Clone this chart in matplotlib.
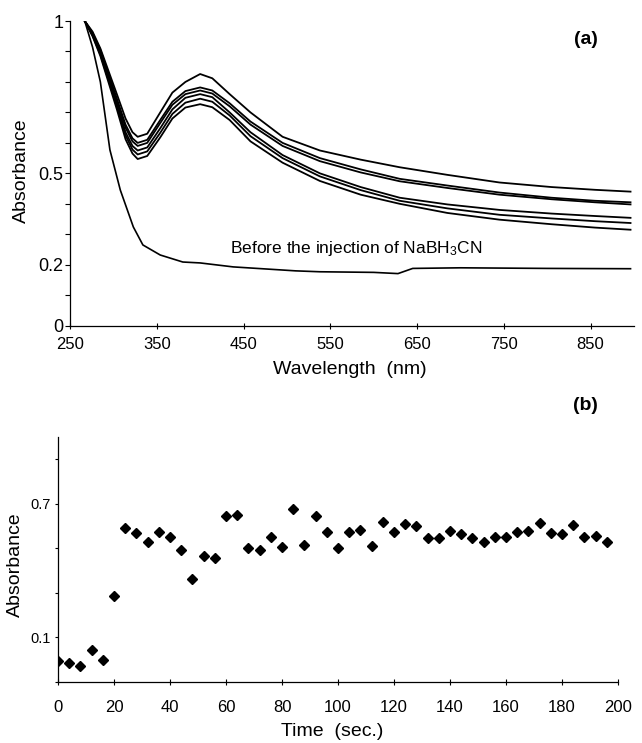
import numpy as np
import matplotlib
matplotlib.use("Agg")
import matplotlib.pyplot as plt

plt.rcParams["font.family"] = ["Liberation Sans", "DejaVu Sans"]
plt.rcParams["mathtext.fontset"] = "custom"
plt.rcParams["mathtext.rm"] = "Liberation Sans"
plt.rcParams["mathtext.default"] = "regular"

# (a) spectra after injection
wl = [267, 276, 285, 304, 314, 322, 328, 339, 354, 368, 383, 400, 414, 434,
      458, 495, 538, 585, 630, 685, 745, 805, 855, 896]
spec1 = [1.00, 0.965, 0.91, 0.76, 0.68, 0.635, 0.62, 0.63, 0.70, 0.765, 0.80, 0.826,
         0.812, 0.76, 0.70, 0.62, 0.575, 0.545, 0.52, 0.495, 0.47, 0.455, 0.446, 0.44]
spec2 = [1.00, 0.96, 0.905, 0.745, 0.66, 0.615, 0.60, 0.61, 0.675, 0.735, 0.77, 0.782,
         0.772, 0.73, 0.67, 0.60, 0.55, 0.513, 0.482, 0.46, 0.437, 0.42, 0.41, 0.405]
spec3 = [1.00, 0.958, 0.90, 0.74, 0.65, 0.605, 0.59, 0.60, 0.665, 0.725, 0.76, 0.772,
         0.762, 0.72, 0.66, 0.59, 0.54, 0.503, 0.474, 0.452, 0.43, 0.415, 0.405, 0.398]
spec4 = [1.00, 0.955, 0.895, 0.73, 0.635, 0.59, 0.575, 0.585, 0.648, 0.71, 0.748, 0.76,
         0.75, 0.70, 0.635, 0.56, 0.50, 0.455, 0.42, 0.398, 0.38, 0.368, 0.36, 0.354]
spec5 = [1.00, 0.952, 0.89, 0.72, 0.625, 0.578, 0.562, 0.572, 0.633, 0.695, 0.732, 0.745,
         0.735, 0.69, 0.622, 0.55, 0.49, 0.445, 0.41, 0.385, 0.364, 0.352, 0.343, 0.337]
spec6 = [1.00, 0.95, 0.885, 0.71, 0.612, 0.565, 0.547, 0.557, 0.618, 0.68, 0.716, 0.727,
         0.717, 0.675, 0.605, 0.535, 0.475, 0.43, 0.40, 0.37, 0.348, 0.333, 0.322, 0.315]
spectra = [spec1, spec2, spec3, spec4, spec5, spec6]

# (a) spectrum before the injection
wl_before = [267, 276, 285, 296, 308, 323, 334, 354, 380, 400, 438, 510, 538, 600,
             628, 645, 700, 800, 896]
abs_before = [1.00, 0.914, 0.80, 0.577, 0.445, 0.324, 0.265, 0.232, 0.209, 0.206,
              0.193, 0.18, 0.177, 0.175, 0.171, 0.188, 0.19, 0.188, 0.187]

a_xticks = [250, 350, 450, 550, 650, 750, 850]
a_yticks = [0, 0.1, 0.2, 0.3, 0.4, 0.5, 0.6, 0.7, 0.8, 0.9, 1.0]
a_ylabels = ["0", "", "0.2", "", "", "0.5", "", "", "", "", "1"]

# (b) absorbance vs time
time_s = [0, 4, 8, 12, 16, 20, 24, 28, 32, 36, 40, 44, 48, 52, 56, 60, 64, 68, 72,
          76, 80, 84, 88, 92, 96, 100, 104, 108, 112, 116, 120, 124, 128, 132, 136,
          140, 144, 148, 152, 156, 160, 164, 168, 172, 176, 180, 184, 188, 192, 196]
absorb = [-0.007, -0.014, -0.029, 0.041, -0.004, 0.286, 0.593, 0.568, 0.530, 0.571,
          0.550, 0.492, 0.360, 0.467, 0.458, 0.646, 0.649, 0.500, 0.491, 0.552,
          0.507, 0.676, 0.516, 0.643, 0.575, 0.503, 0.571, 0.583, 0.512, 0.619,
          0.575, 0.610, 0.602, 0.545, 0.545, 0.578, 0.563, 0.548, 0.529, 0.550,
          0.552, 0.571, 0.577, 0.614, 0.568, 0.565, 0.604, 0.550, 0.556, 0.527]

b_xticks = [0, 20, 40, 60, 80, 100, 120, 140, 160, 180, 200]
b_yticks = [-0.1, 0.1, 0.3, 0.5, 0.7, 0.9]
b_ylabels = ["", "0.1", "", "", "0.7", ""]

W, H = 642, 743
fig = plt.figure(figsize=(W / 100, H / 100), dpi=100)


def px_axes(x0, y0, x1, y1):
    return fig.add_axes([x0 / W, 1 - y1 / H, (x1 - x0) / W, (y1 - y0) / H])


def style(ax):
    for s in ["top", "right"]:
        ax.spines[s].set_visible(False)
    for s in ["left", "bottom"]:
        ax.spines[s].set_linewidth(0.9)


# ---- panel (a)
ax1 = px_axes(70, 21, 634, 325.7)
style(ax1)
for s in spectra:
    ax1.plot(wl, s, color="black", lw=1.3)
ax1.plot(wl_before, abs_before, color="black", lw=1.2)
ax1.set_xlim(250, 900)
ax1.set_ylim(0, 1.0)
ax1.set_xticks(a_xticks)
ax1.set_xticklabels([str(t) for t in a_xticks], fontsize=12)
ax1.set_yticks(a_yticks)
ax1.set_yticklabels(a_ylabels, fontsize=13)
ax1.tick_params(axis="x", direction="inout", length=4, width=0.8, pad=6)
ax1.tick_params(axis="y", direction="out", length=3.6, width=0.8, pad=1)
ax1.text(434, 0.255, "Before the injection of NaBH$_3$CN", fontsize=12.5,
         ha="left", va="center")

# ---- panel (b)
ax2 = px_axes(58, 437, 618, 681.7)
style(ax2)
ax2.plot(time_s, absorb, ls="none", marker="D", ms=5.5, color="black")
ax2.set_xlim(0, 200)
ax2.set_ylim(-0.1, 1.0)
ax2.set_xticks(b_xticks)
ax2.set_xticklabels([str(t) for t in b_xticks], fontsize=12)
ax2.set_yticks(b_yticks)
ax2.set_yticklabels(b_ylabels, fontsize=10.5)
ax2.tick_params(axis="x", direction="inout", length=4, width=0.8, pad=11)
ax2.tick_params(axis="y", direction="out", length=2.5, width=0.8, pad=3)

# labels placed in pixel coordinates
def ftext(x, y, s, **kw):
    fig.text(x / W, 1 - y / H, s, ha="center", va="center", **kw)

ftext(21, 171, "Absorbance", fontsize=14, rotation=90)
ftext(350, 370, "Wavelength  (nm)", fontsize=14)
ftext(586, 40, "(a)", fontsize=14, fontweight="bold")
ftext(15, 565, "Absorbance", fontsize=14, rotation=90)
ftext(332, 732, "Time  (sec.)", fontsize=14)
ftext(585, 405, "(b)", fontsize=14, fontweight="bold")

fig.savefig("out.png", dpi=100)
